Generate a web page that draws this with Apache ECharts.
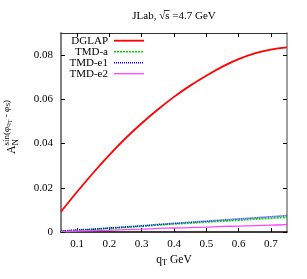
<!DOCTYPE html>
<html><head><meta charset="utf-8">
<script src="https://cdn.jsdelivr.net/npm/echarts@6/dist/echarts.min.js"></script>
<style>html,body{margin:0;padding:0;background:#fff}#c{width:307px;height:279px}</style>
</head><body><div id="c"></div>
<script>
const qT = [0.05,0.10,0.15,0.20,0.25,0.30,0.35,0.40,0.45,0.50,0.55,0.60,0.65,0.70,0.75];
const dglap = [0.0092,0.0182,0.0268,0.0349,0.0424,0.0492,0.0554,0.0611,0.0662,0.0707,0.0748,0.0782,0.0808,0.0825,0.0835];
const tmdA  = [0.0004,0.0008,0.0012,0.0017,0.0021,0.0026,0.0031,0.0036,0.0040,0.0045,0.0049,0.0053,0.0058,0.0062,0.0066];
const tmdE1 = [0.0004,0.0009,0.0013,0.0018,0.0023,0.0028,0.0034,0.0039,0.0044,0.0049,0.0054,0.0059,0.0064,0.0069,0.0074];
const tmdE2 = [0.0002,0.0004,0.0006,0.0008,0.0011,0.0013,0.0016,0.0018,0.0020,0.0022,0.0025,0.0027,0.0029,0.0031,0.0033];
const xTicks = [0.1,0.2,0.3,0.4,0.5,0.6,0.7];
const yTicks = [0,0.02,0.04,0.06,0.08];
const seriesNames = ['DGLAP','TMD-a','TMD-e1','TMD-e2'];

const FONT = '"Liberation Serif", "Times New Roman", serif';
const cv = document.createElement('canvas').getContext('2d');
function tw(t, s){ cv.font = s + 'px ' + FONT; return cv.measureText(t).width; }

function richGroup(pieces, center){
  let cx = 0, saved = 0, maxX = 0;
  const kids = [];
  const pos = [];
  pieces.forEach(p => {
    if (p.save) saved = cx;
    if (p.restore) cx = saved;
    pos.push(cx);
    cx += tw(p.t, p.s);
    maxX = Math.max(maxX, cx);
  });
  const off = center ? -maxX/2 : 0;
  pieces.forEach((p,i) => {
    kids.push({type:'text', x: pos[i] + off, y: p.dy || 0,
      style:{text:p.t, font: p.s + 'px ' + FONT, fill:'#000', textAlign:'left', verticalAlign:'middle'}});
  });
  return {kids, width: maxX, off};
}

const chart = echarts.init(document.getElementById('c'), null, {renderer:'canvas'});

const mk = (name, data, color, type, width) => ({
  name, type:'line', data: qT.map((x,i)=>[x,data[i]]), showSymbol:false, smooth:0.4,
  lineStyle:{color, width, type}, xAxisIndex:0, yAxisIndex:0, z: 3
});

const tg = richGroup([{t:'JLab, ', s:11},{t:'\u221As', s:11},{t:' =4.7 GeV', s:11}], true);
const sqrtW = tw('\u221A',11), sW = tw('s',11), preW = tw('JLab, ',11);
const overX0 = tg.off + preW + sqrtW*0.8, overX1 = tg.off + preW + sqrtW + sW;

const yl = richGroup([
  {t:'A', s:12, dy:0},
  {t:'N', s:9, dy:3.5, save:true},
  {t:'sin(\u03C6', s:9, dy:-5.5, restore:true},
  {t:'q', s:7, dy:-3.5},
  {t:'T', s:6, dy:-2},
  {t:' - \u03C6', s:9, dy:-5.5},
  {t:'S', s:7, dy:-3.5},
  {t:')', s:9, dy:-5.5}
], true);

const xl = richGroup([{t:'q', s:11.5, dy:0},{t:'T', s:8.5, dy:3},{t:' GeV', s:11.5, dy:0}], true);

const legendY = [40.7, 51.7, 62.7, 73.7];
const legStyles = [
  {color:'#ff0000', type:'solid', width:1.8},
  {color:'#00dd00', type:[2,1], width:1.6},
  {color:'#0000ff', type:[1,1], width:1.6},
  {color:'#ff44ff', type:'solid', width:1.3}
];
const legendGraphics = [];
seriesNames.forEach((n,i)=>{
  legendGraphics.push({type:'text', x:108, y:legendY[i], style:{text:n, font:'11px '+FONT, fill:'#000', textAlign:'right', verticalAlign:'middle'}, z:10});
  legendGraphics.push({type:'line', shape:{x1:114, y1:legendY[i], x2:144, y2:legendY[i]}, style:{stroke:legStyles[i].color, lineWidth:legStyles[i].width, lineDash: legStyles[i].type==='solid'?null:legStyles[i].type}, z:10});
});

const axisCommon = {type:'value', min:0.05, max:0.75, splitLine:{show:false}};

chart.setOption({
  animation:false,
  grid:{left:61, right:20, top:33, bottom:47, containLabel:false},
  xAxis:[
    Object.assign({}, axisCommon, {position:'bottom',
      axisLine:{show:true, onZero:false, lineStyle:{color:'#000', width:1.5}},
      axisTick:{show:true, inside:true, length:4, customValues:xTicks, lineStyle:{color:'#000'}},
      axisLabel:{show:true, customValues:xTicks, margin:7, color:'#000', fontFamily:FONT, fontSize:11, formatter:v=>String(+v.toFixed(2))}}),
    Object.assign({}, axisCommon, {position:'top',
      axisLine:{show:true, onZero:false, lineStyle:{color:'#333', width:1}},
      axisTick:{show:true, inside:true, length:4, customValues:xTicks, lineStyle:{color:'#000'}},
      axisLabel:{show:false}})
  ],
  yAxis:[
    {type:'value', min:0, max:0.09, position:'left', splitLine:{show:false},
      axisLine:{show:true, onZero:false, lineStyle:{color:'#808080', width:2}},
      axisTick:{show:true, inside:true, length:4, customValues:yTicks, lineStyle:{color:'#000'}},
      axisLabel:{show:true, customValues:yTicks, margin:8, color:'#000', fontFamily:FONT, fontSize:11, formatter:v=> v===0?'0':v.toFixed(2)}},
    {type:'value', min:0, max:0.09, position:'right', splitLine:{show:false},
      axisLine:{show:true, onZero:false, lineStyle:{color:'#808080', width:1.5}},
      axisTick:{show:true, inside:true, length:4, customValues:yTicks, lineStyle:{color:'#000'}},
      axisLabel:{show:false}}
  ],
  series:[
    mk('DGLAP', dglap, legStyles[0].color, 'solid', 1.8),
    mk('TMD-a', tmdA, legStyles[1].color, [2,1], 1.6),
    mk('TMD-e1', tmdE1, legStyles[2].color, [1,1], 1.6),
    mk('TMD-e2', tmdE2, legStyles[3].color, 'solid', 1.3)
  ],
  graphic:[
    {type:'group', x:174, y:16, children: tg.kids.concat([
      {type:'line', shape:{x1:overX0, y1:-5.5, x2:overX1, y2:-5.5}, style:{stroke:'#000', lineWidth:0.8}}
    ])},
    {type:'group', x:12, y:127, rotation:Math.PI/2, children: yl.kids},
    {type:'group', x:174, y:260, children: xl.kids}
  ].concat(legendGraphics)
});
</script></body></html>
